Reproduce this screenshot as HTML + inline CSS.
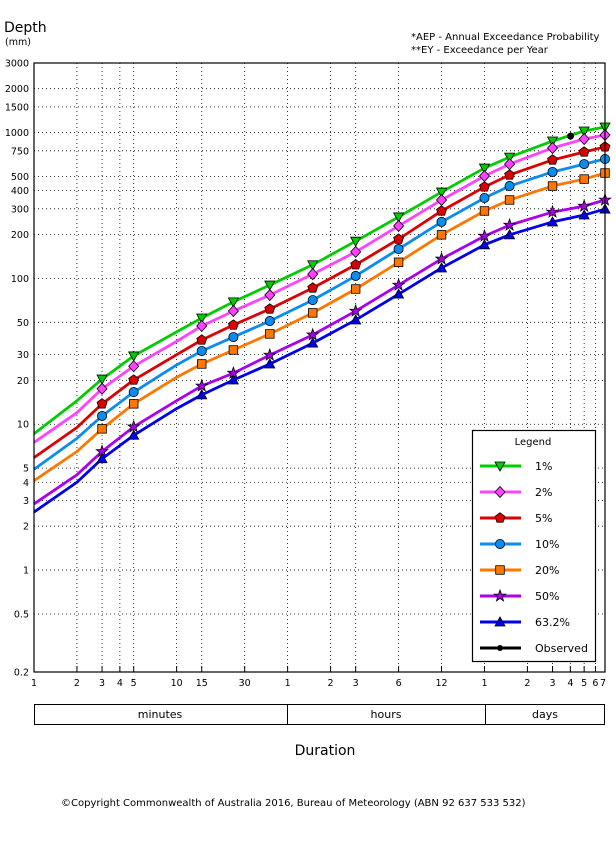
<!DOCTYPE html>
<html><head><meta charset="utf-8"><style>
body{margin:0;background:#fff;width:616px;height:850px;overflow:hidden;font-family:"DejaVu Sans","Liberation Sans",sans-serif;}
svg text{font-family:"DejaVu Sans","Liberation Sans",sans-serif;}
</style></head><body>
<svg id="chart" width="616" height="850" xmlns="http://www.w3.org/2000/svg">
<text x="4" y="32" font-size="14">Depth</text>
<text x="5" y="45" font-size="9.5">(mm)</text>
<text x="411" y="40" font-size="10">*AEP - Annual Exceedance Probability</text>
<text x="411" y="53" font-size="10">**EY - Exceedance per Year</text>
<g id="grid"></g><g id="series"></g><g id="axes"></g>
<rect x="34" y="63" width="571" height="609" fill="none" stroke="#000" stroke-width="1.2"/>
<g>
<rect x="34.5" y="704.5" width="570" height="20" fill="none" stroke="#000"/>
<line x1="287.5" y1="704" x2="287.5" y2="725" stroke="#000"/>
<line x1="485.5" y1="704" x2="485.5" y2="725" stroke="#000"/>
<text x="160" y="718" font-size="11" text-anchor="middle">minutes</text>
<text x="386" y="718" font-size="11" text-anchor="middle">hours</text>
<text x="545" y="718" font-size="11" text-anchor="middle">days</text>
</g>
<text x="325" y="755" font-size="14" text-anchor="middle">Duration</text>
<text x="61" y="806" font-size="10">©Copyright Commonwealth of Australia 2016, Bureau of Meteorology (ABN 92 637 533 532)</text>
<g id="legend"></g>
</svg>
<script>
const durations=[1,2,3,5,10,15,25,45,90,180,360,720,1440,2160,4320,7200,10080];
const markerDurations=[3,5,15,25,45,90,180,360,720,1440,2160,4320,7200,10080];
const aep1=[8.6,14.5,20.4,29.4,43,53.5,69,90,124,180,264,391,571,679,875,1025,1092];
const aep2=[7.5,12,17.5,25,37,47.2,59.7,76.9,107,152,229,345,504,608,784,904,962];
const aep5=[5.9,9.5,13.8,20.1,30,37.8,47.9,61.7,86,124,186,290,424,512,649,736,797];
const aep10=[4.9,8,11.4,16.6,25.5,31.8,39.6,51,71,104,159,244,356,430,537,608,659];
const aep20=[4.1,6.5,9.3,13.8,21,25.9,32.3,41.6,58,84.6,129,199,290,345,430,480,528];
const aep50=[2.84,4.5,6.5,9.6,14.5,18.3,22.4,29.8,41,59.7,90,136,195,232,285,313,345];
const aep632=[2.5,4.0,5.8,8.4,12.8,15.9,20.1,25.9,36,51.9,78,118,170,199,244,272,299];
const observedDur=[5780];
const observedVal=[946];
const seriesNames=["1%","2%","5%","10%","20%","50%","63.2%"];
const yTicks=[3000,2000,1500,1000,750,500,400,300,200,100,50,30,20,10,5,4,3,2,1,0.5,0.2];
const yTickLabels=["3000","2000","1500","1000","750","500","400","300","200","100","50","30","20","10","5","4","3","2","1","0.5","0.2"];
const xTicks=[1,2,3,4,5,10,15,30,60,120,180,360,720,1440,2880,4320,5760,7200,8640,10080];
const xTickLabels=["1","2","3","4","5","10","15","30","1","2","3","6","12","1","2","3","4","5","6","7"];

const NS="http://www.w3.org/2000/svg";
const X0=34,X1=605,Y0=672,Y1=63;
const lxMin=0,lxMax=Math.log10(10080),lyMin=Math.log10(0.2),lyMax=Math.log10(3000);
function xs(v){return X0+(Math.log10(v)-lxMin)/(lxMax-lxMin)*(X1-X0);}
function ys(v){return Y0-(Math.log10(v)-lyMin)/(lyMax-lyMin)*(Y0-Y1);}
function mk(tag,attrs,parent){const e=document.createElementNS(NS,tag);for(const k in attrs)e.setAttribute(k,attrs[k]);parent.appendChild(e);return e;}
const grid=document.getElementById('grid'),axes=document.getElementById('axes'),ser=document.getElementById('series'),leg=document.getElementById('legend');

yTicks.forEach((t,i)=>{const y=ys(t);
 const g=mk('line',{x1:X0,x2:X1,y1:y,y2:y,stroke:'#000','stroke-width':0.8,'stroke-dasharray':'1,3'},grid);
 
 
 const tx=mk('text',{x:29,y:y+3.5,'font-size':9.5,'text-anchor':'end'},axes);
 tx.textContent=yTickLabels[i];
 
 
});
xTicks.forEach((t,i)=>{const x=xs(t);
 const g=mk('line',{x1:x,x2:x,y1:Y1,y2:Y0,stroke:'#000','stroke-width':0.8,'stroke-dasharray':'1,3'},grid);
 
 
 mk('line',{x1:x,x2:x,y1:Y0,y2:Y0-6,stroke:'#000'},axes);
 const tx=mk('text',{x:Math.min(x,603),y:686,'font-size':9.5,'text-anchor':'middle'},axes);
 tx.textContent=xTickLabels[i];
 
 
});

const colors=["#00cc00","#ff44ff","#dd0000","#0a8cf0","#ff7700","#aa00ee","#0000ee"];
const shapes=["tdown","diamond","pentagon","circle","square","star","tup"];
const data=[aep1,aep2,aep5,aep10,aep20,aep50,aep632];
function marker(shape,x,y,c,p,name){let e;
 const at={fill:c,stroke:'#000','stroke-width':0.8};
 if(shape==='circle'){e=mk('circle',Object.assign({cx:x,cy:y,r:4.6},at),p);}
 else if(shape==='square'){e=mk('rect',Object.assign({x:x-4.3,y:y-4.3,width:8.6,height:8.6},at),p);}
 else{let pts;
  if(shape==='tdown')pts=[[-5,-4],[5,-4],[0,5]];
  else if(shape==='tup')pts=[[-5,4],[5,4],[0,-5]];
  else if(shape==='diamond')pts=[[0,-5.5],[5,0],[0,5.5],[-5,0]];
  else if(shape==='pentagon'){pts=[];for(let k=0;k<5;k++){const a=-Math.PI/2+k*2*Math.PI/5;pts.push([5.2*Math.cos(a),5.2*Math.sin(a)]);}}
  else {pts=[];for(let k=0;k<10;k++){const a=-Math.PI/2+k*Math.PI/5,r=k%2?2.4:6;pts.push([r*Math.cos(a),r*Math.sin(a)]);}}
  e=mk('polygon',Object.assign({points:pts.map(q=>(x+q[0])+','+(y+q[1])).join(' ')},at),p);}
 
 
 return e;}

data.forEach((vals,si)=>{
 const g=mk('g',{},ser);
 
 
 const d=durations.map((t,i)=>(i?'L':'M')+xs(t).toFixed(2)+','+ys(vals[i]).toFixed(2)).join(' ');
 const pl=mk('path',{d:d,fill:'none',stroke:colors[si],'stroke-width':2.8,'stroke-linejoin':'round'},g);
 
 
 durations.forEach((t,i)=>{if(markerDurations.indexOf(t)>=0)marker(shapes[si],xs(t),ys(vals[i]),colors[si],g,'data-point');});
});
observedDur.forEach((t,i)=>{const c=mk('circle',{cx:xs(t),cy:ys(observedVal[i]),r:3.5,fill:'#000'},ser);
 
 });

// legend
mk('rect',{x:472.5,y:430.5,width:123,height:231,fill:'#fff',stroke:'#000','stroke-width':1.2},leg);
const lt=mk('text',{x:533,y:445,'font-size':10,'text-anchor':'middle'},leg);lt.textContent='Legend';
const names=seriesNames.concat(['Observed']);
names.forEach((n,i)=>{const y=466+i*26;const g=mk('g',{},leg);
 
 
 const c=i<7?colors[i]:'#000';
 mk('line',{x1:480,x2:521,y1:y,y2:y,stroke:c,'stroke-width':3},g);
 if(i<7)marker(shapes[i],500,y,c,g,'legend-marker');else mk('circle',{cx:500,cy:y,r:3,fill:'#000'},g);
 const t=mk('text',{x:535,y:y+4,'font-size':11},g);t.textContent=n;});
</script>
</body></html>
